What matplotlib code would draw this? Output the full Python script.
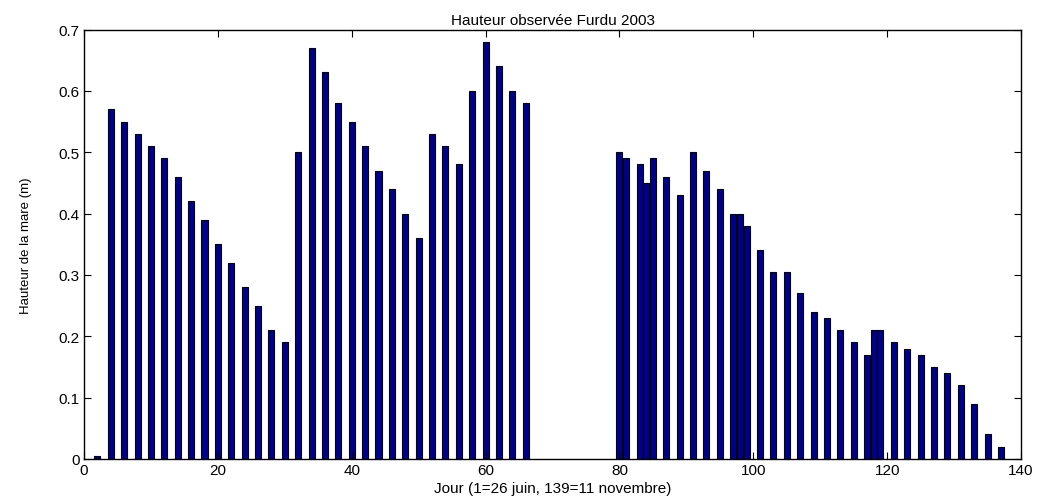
import numpy as np
import matplotlib
matplotlib.use('Agg')
import matplotlib.pyplot as plt

plt.rcParams['font.family'] = ['Liberation Sans', 'DejaVu Sans']

# jours et hauteurs
jours = [2, 4, 6, 8, 10, 12, 14, 16, 18, 20, 22, 24, 26, 28, 30,
         32, 34, 36, 38, 40, 42, 44, 46, 48, 50, 52, 54, 56, 58, 60, 62, 64, 66,
         80, 81, 83, 84, 85, 87, 89, 91, 93, 95, 97, 98, 99, 101, 103, 105,
         107, 109, 111, 113, 115, 117, 118, 119, 121, 123, 125, 127, 129,
         131, 133, 135, 137]
hauteurs = [0.005, 0.57, 0.55, 0.53, 0.51, 0.49, 0.46, 0.42, 0.39, 0.35, 0.32,
            0.28, 0.25, 0.21, 0.19,
            0.50, 0.67, 0.63, 0.58, 0.55, 0.51, 0.47, 0.44, 0.40, 0.36, 0.53,
            0.51, 0.48, 0.60, 0.68, 0.64, 0.60, 0.58,
            0.50, 0.49, 0.48, 0.45, 0.49, 0.46, 0.43, 0.50, 0.47, 0.44, 0.40,
            0.40, 0.38, 0.34, 0.305, 0.305,
            0.27, 0.24, 0.23, 0.21, 0.19, 0.17, 0.21, 0.21, 0.19, 0.18, 0.17,
            0.15, 0.14, 0.12, 0.09, 0.04, 0.02]

xticks = [0, 20, 40, 60, 80, 100, 120, 140]
yticks = [0, 0.1, 0.2, 0.3, 0.4, 0.5, 0.6, 0.7]
ytick_labels = ['0', '0.1', '0.2', '0.3', '0.4', '0.5', '0.6', '0.7']

fig = plt.figure(figsize=(10.53, 5.02), dpi=100)
ax = fig.add_axes([0.0798, 0.0837, 0.8898, 0.8555])

ax.bar(jours, hauteurs, width=0.9, color='#00008F', edgecolor='black', linewidth=0.8)

ax.set_xlim(0, 140)
ax.set_ylim(0, 0.7)
ax.set_xticks(xticks)
ax.set_yticks(yticks)
ax.set_yticklabels(ytick_labels)
ax.tick_params(direction='in', top=True, right=True, labelsize=11, length=5, pad=3)
for s in ax.spines.values():
    s.set_linewidth(1.0)

ax.set_title('Hauteur observée Furdu 2003', fontsize=11, pad=4)
ax.set_xlabel('Jour (1=26 juin, 139=11 novembre)', fontsize=11, labelpad=3)
ax.set_ylabel('Hauteur de la mare (m)', fontsize=9.5, labelpad=19)

fig.savefig('out.png', dpi=100)
